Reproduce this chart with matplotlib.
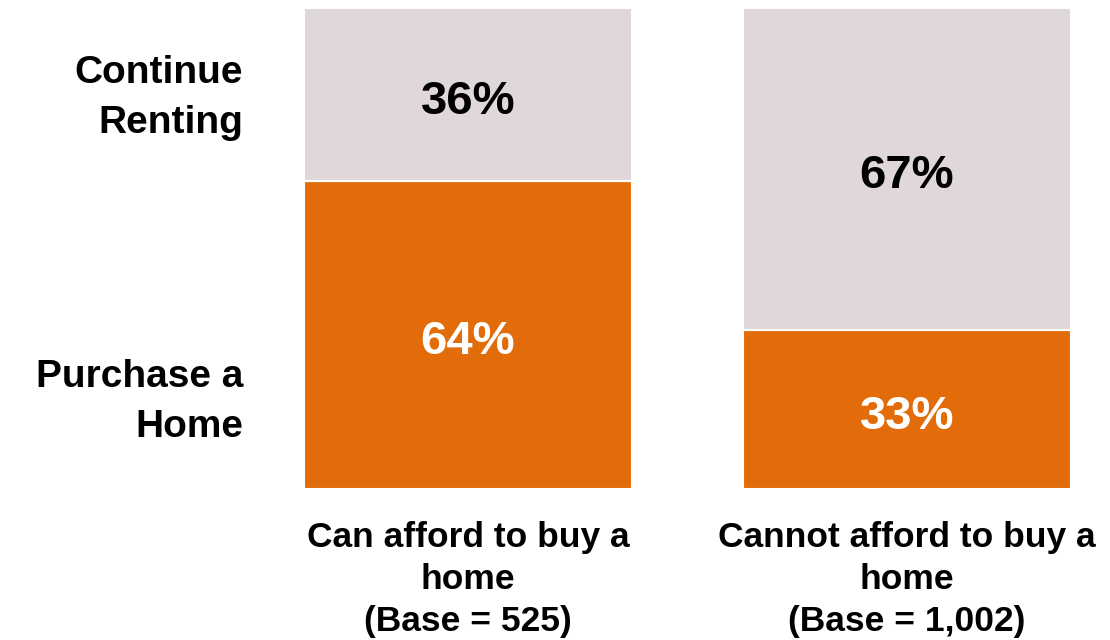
import matplotlib.pyplot as plt

groups = ["Can afford to buy a\nhome\n(Base = 525)", "Cannot afford to buy a\nhome\n(Base = 1,002)"]
purchase = [64, 33]
renting = [36, 67]
row_labels = ["Purchase a\nHome", "Continue\nRenting"]

orange = "#E36C0A"
grey = "#DFD7D8"

plt.rcParams['font.family'] = ['Liberation Sans', 'DejaVu Sans']

fig = plt.figure(figsize=(11.1, 6.4), dpi=100)
ax = fig.add_axes([304 / 1110, 151 / 640, 767 / 1110, 481 / 640])

w = 0.747
x = [0, 1]
ax.bar(x, purchase, width=w, color=orange, edgecolor="white", linewidth=1.5)
ax.bar(x, renting, width=w, bottom=purchase, color=grey, edgecolor="white", linewidth=1.5)

# value labels, nudged a little below segment centre like the original
for i in x:
    ax.annotate(f"{purchase[i]}%", (i, purchase[i] / 2), xytext=(0, -5),
                textcoords="offset points", ha="center", va="center",
                fontsize=34, fontweight="bold", color="white")
    ax.annotate(f"{renting[i]}%", (i, purchase[i] + renting[i] / 2), xytext=(0, -5),
                textcoords="offset points", ha="center", va="center",
                fontsize=34, fontweight="bold", color="black")

ax.set_xlim(-w / 2, 1 + w / 2)
ax.set_ylim(0, 100)
ax.set_xticks(x)
ax.set_xticklabels(groups, fontsize=25.5, fontweight="bold", linespacing=1.34)
ax.set_yticks([20.3, 83.5])
ax.set_yticklabels(row_labels, fontsize=28, fontweight="bold", linespacing=1.5)
ax.tick_params(axis="x", length=0, pad=23)
ax.tick_params(axis="y", length=0, pad=44)
for s in ax.spines.values():
    s.set_visible(False)

fig.savefig("out.png", dpi=100)
